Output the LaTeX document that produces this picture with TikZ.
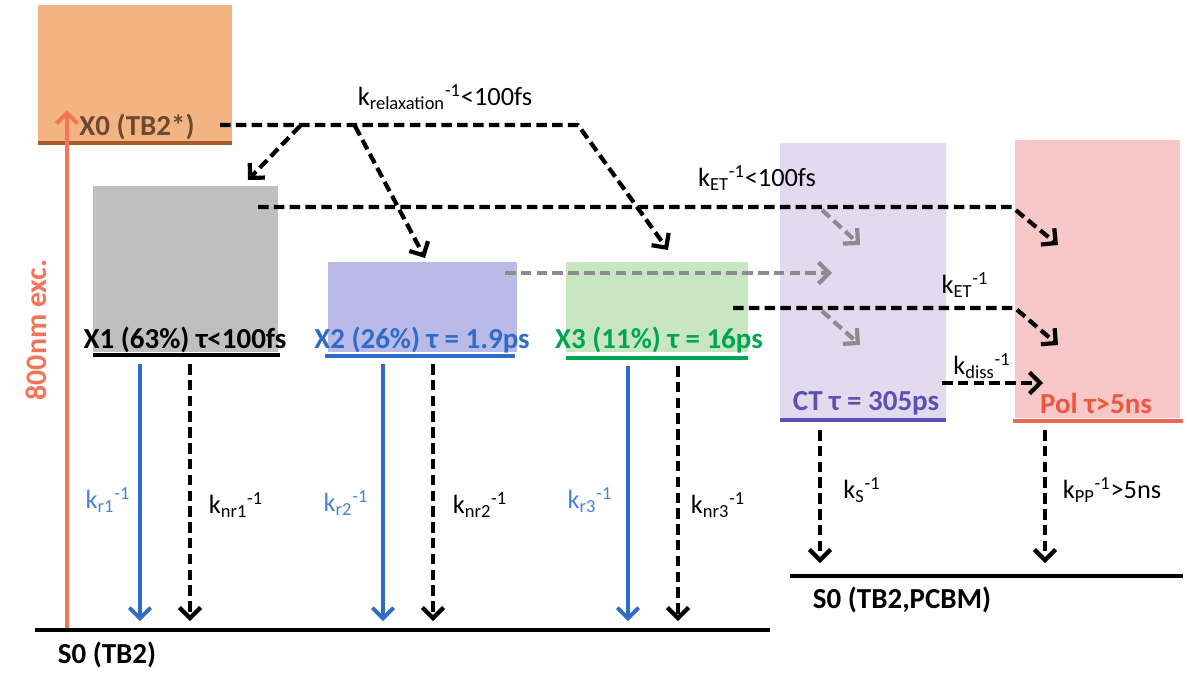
\documentclass[tikz,border=0pt]{standalone}
\usepackage{fontspec}
\setmainfont{Carlito}
\usetikzlibrary{arrows.meta,fit}
\definecolor{cX0}{HTML}{F4B383}
\definecolor{cX0line}{HTML}{A85A28}
\definecolor{cX0txt}{HTML}{6B4A30}
\definecolor{cX1}{HTML}{BFBFBF}
\definecolor{cX2}{HTML}{BABAE8}
\definecolor{cX3}{HTML}{C8E6C2}
\definecolor{cCT}{HTML}{E3DAF0}
\definecolor{cPol}{HTML}{F8C8C8}
\definecolor{cblue}{HTML}{2F6CC8}
\definecolor{clblue}{HTML}{4A82DA}
\definecolor{cgreen}{HTML}{00A552}
\definecolor{cpurple}{HTML}{5A52B0}
\definecolor{cred}{HTML}{F0553F}
\definecolor{cexc}{HTML}{F47458}
\definecolor{cgray}{HTML}{8C8C8C}
\begin{document}
\begin{tikzpicture}[x=0.02cm,y=-0.02cm,
  boxnode/.style={inner sep=0pt,outer sep=0pt,draw=none},
  lvl/.style={line width=2.4pt},
  title/.style={font=\fontsize{16.5}{19}\selectfont\bfseries,inner sep=1pt},
  lab/.style={font=\fontsize{15}{17}\selectfont,inner sep=1pt},
  darr/.style={draw=black,line width=2.4pt,line join=round,dash pattern=on 6pt off 3pt,
    -{Straight Barb[length=6pt,width=12pt,line width=2.4pt]}},
  garr/.style={darr,draw=cgray,-{Straight Barb[length=6pt,width=12pt,line width=2.4pt,color=cgray]}},
  barr/.style={draw=cblue,line width=2.2pt,-{Straight Barb[length=6pt,width=12pt,line width=2.2pt]}},
  earr/.style={draw=cexc,line width=2.4pt,-{Straight Barb[length=6pt,width=12pt,line width=2.4pt]}}
]
\useasboundingbox (0,0) rectangle (1187,677);

% boxes
\node[boxnode,fill=cX0,fit={(38,5) (232,143)}] (X0) {};
\node[boxnode,fill=cX1,fit={(93,186) (278,352)}] (X1) {};
\node[boxnode,fill=cX2,fit={(328,262) (517,352)}] (X2) {};
\node[boxnode,fill=cX3,fit={(566,262) (748,352)}] (X3) {};
\node[boxnode,fill=cCT,fit={(780,143) (946,418)}] (CT) {};
\node[boxnode,fill=cPol,fit={(1015,140) (1180,418)}] (Pol) {};

% level lines
\draw[lvl,cX0line] (38,143) -- (232,143);
\draw[lvl,black] (93,355) -- (280,355);
\draw[lvl,cblue] (325,356) -- (515,356);
\draw[lvl,cgreen] (566,358) -- (748,358);
\draw[lvl,cpurple] (780,420) -- (946,420);
\draw[lvl,cred!90] (1013,421) -- (1183,421);
\draw[lvl,black] (35,630) -- (770,630);
\draw[lvl,black] (790,576) -- (1183,576);

% titles
\node[title,text=cX0txt] (tX0) at (137,127) {X0 (TB2*)};
\node[title] (tX1) at (185,340) {X1 (63\%) τ<100fs};
\node[title,text=cblue] (tX2) at (422,340) {X2 (26\%) τ = 1.9ps};
\node[title,text=cgreen] (tX3) at (659,340) {X3 (11\%) τ = 16ps};
\node[title,text=cpurple] (tCT) at (866,403) {CT τ = 305ps};
\node[title,text=cred] (tPol) at (1096,403) {Pol τ>5ns};
\node[title] (tS0) at (107,655) {S0 (TB2)};
\node[title] (tS0b) at (902,600) {S0 (TB2,PCBM)};
\node[font=\fontsize{17}{19}\selectfont\bfseries,text=cexc,rotate=90] (exc) at (36,330) {800nm exc.};

% excitation arrow
\coordinate (e0) at (67,628);
\coordinate (e1) at (67,110);
\draw[earr] (e0) -- (e1);

% relaxation from X0
\coordinate (r0) at (220,125);
\coordinate (rc) at (578,125);
\coordinate (r3) at (668,250);
\coordinate (b1s) at (300,126);
\coordinate (b1e) at (248,180);
\coordinate (b2s) at (355,126);
\coordinate (b2e) at (425,258);
\draw[darr] (r0) -- (rc) -- (r3);
\draw[darr] (b1s) -- (b1e);
\draw[darr] (b2s) -- (b2e);
\node[lab] (lrel) at (445,97) {k\textsubscript{relaxation}\textsuperscript{-1}<100fs};

% electron transfer from X1
\coordinate (a0) at (258,207);
\coordinate (ac) at (1012,207);
\coordinate (a1) at (1058,245);
\coordinate (g1s) at (822,210);
\coordinate (g1e) at (860,245);
\draw[garr] (g1s) -- (g1e);
\draw[darr] (a0) -- (ac) -- (a1);
\node[lab] (lET1) at (757,178) {k\textsubscript{ET}\textsuperscript{-1}<100fs};

% from X2
\coordinate (x2s) at (505,273);
\coordinate (x2e) at (832,273);
\draw[garr] (x2s) -- (x2e);

% from X3
\coordinate (c0) at (733,308);
\coordinate (cc) at (1015,308);
\coordinate (c1) at (1058,345);
\coordinate (g2s) at (822,311);
\coordinate (g2e) at (860,345);
\draw[garr] (g2s) -- (g2e);
\draw[darr] (c0) -- (cc) -- (c1);
\node[lab] (lET2) at (965,285) {k\textsubscript{ET}\textsuperscript{-1}};

% dissociation
\coordinate (d0) at (942,383);
\coordinate (d1) at (1043,383);
\draw[darr] (d0) -- (d1);
\node[lab] (ldiss) at (982,366) {k\textsubscript{diss}\textsuperscript{-1}};

% decays of X states
\coordinate (r1s) at (140,364); \coordinate (r1e) at (140,621);
\coordinate (n1s) at (190,364); \coordinate (n1e) at (190,621);
\coordinate (r2s) at (383,364); \coordinate (r2e) at (383,621);
\coordinate (n2s) at (433,364); \coordinate (n2e) at (433,621);
\coordinate (r3s) at (628,366); \coordinate (r3e) at (628,621);
\coordinate (n3s) at (678,366); \coordinate (n3e) at (678,621);
\draw[barr] (r1s) -- (r1e);
\draw[darr] (n1s) -- (n1e);
\draw[barr] (r2s) -- (r2e);
\draw[darr] (n2s) -- (n2e);
\draw[barr] (r3s) -- (r3e);
\draw[darr] (n3s) -- (n3e);
\node[lab,text=clblue] (lr1) at (108,500) {k\textsubscript{r1}\textsuperscript{-1}};
\node[lab] (lnr1) at (236,505) {k\textsubscript{nr1}\textsuperscript{-1}};
\node[lab,text=clblue] (lr2) at (346,503) {k\textsubscript{r2}\textsuperscript{-1}};
\node[lab] (lnr2) at (480,505) {k\textsubscript{nr2}\textsuperscript{-1}};
\node[lab,text=clblue] (lr3) at (590,500) {k\textsubscript{r3}\textsuperscript{-1}};
\node[lab] (lnr3) at (718,505) {k\textsubscript{nr3}\textsuperscript{-1}};

% decays of CT and Pol
\coordinate (cts) at (820,430); \coordinate (cte) at (820,563);
\coordinate (ps) at (1045,430); \coordinate (pe) at (1045,563);
\draw[darr] (cts) -- (cte);
\draw[darr] (ps) -- (pe);
\node[lab] (lS) at (862,490) {k\textsubscript{S}\textsuperscript{-1}};
\node[lab] (lPP) at (1112,490) {k\textsubscript{PP}\textsuperscript{-1}>5ns};
\end{tikzpicture}
\end{document}
